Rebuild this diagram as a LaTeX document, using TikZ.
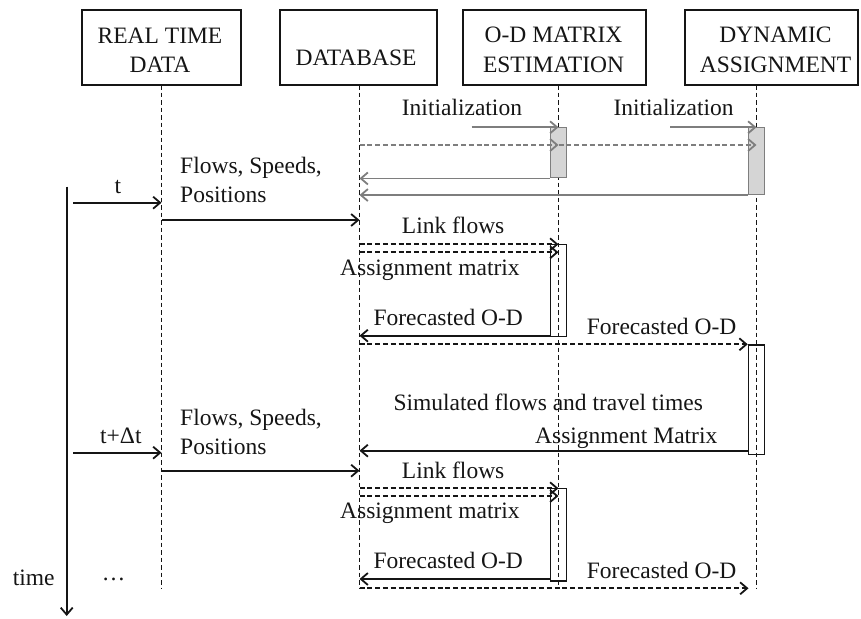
\documentclass[tikz,border=0pt]{standalone}
\usepackage{fontspec}
\setmainfont{Liberation Serif}
\usetikzlibrary{arrows.meta}
\definecolor{ink}{HTML}{151515}
\definecolor{initgray}{HTML}{7E7E7E}
\definecolor{barfill}{HTML}{D5D5D5}
\begin{document}
\begin{tikzpicture}[x=1pt,y=-1pt,
  every node/.style={font=\fontsize{23.5}{29.4}\selectfont, text=ink, inner sep=0pt},
  hdr/.style={draw=ink, line width=1.8pt, rectangle},
  lifeline/.style={draw=ink, line width=1.4pt, dash pattern=on 4.5pt off 3pt},
  msg/.style={draw=ink, line width=1.8pt, -{Straight Barb[length=7pt,width=12pt]}},
  dmsg/.style={msg, dash pattern=on 5pt off 2.8pt},
  gmsg/.style={msg, draw=initgray},
  gdmsg/.style={gmsg, dash pattern=on 5pt off 2.8pt},
  actbar/.style={draw=ink, line width=1.5pt, minimum width=16pt, inner sep=0pt},
  initbar/.style={actbar, draw=initgray, fill=barfill},
]
\useasboundingbox (0,0) rectangle (861,618);

% header boxes
\node[hdr, minimum width=159pt, minimum height=75pt] (rt) at (161.5,47.5) {};
\node[hdr, minimum width=157pt, minimum height=75pt] (db) at (358.5,47.5) {};
\node[hdr, minimum width=183pt, minimum height=75pt] (od) at (554.5,47.5) {};
\node[hdr, minimum width=173pt, minimum height=75pt] (da) at (771.5,47.5) {};
\node[anchor=south, align=center] (rtlbl) at (160,72.7) {REAL TIME\\DATA};
\node[anchor=base] (dblbl) at (356,66) {DATABASE};
\node[anchor=south, align=center] (odlbl) at (553.5,72.7) {O-D MATRIX\\ESTIMATION};
\node[anchor=south, align=center] (dalbl) at (775.5,72.7) {DYNAMIC\\ASSIGNMENT};

% lifelines
\coordinate (rtl) at (161.5,85);
\coordinate (dbl) at (359.5,85);
\coordinate (odl) at (558.5,85);
\coordinate (dal) at (756.5,85);
\coordinate (yend) at (0,588.5);
\draw[lifeline] (rtl) -- (rtl |- yend);
\draw[lifeline] (dbl) -- (dbl |- yend);
\draw[lifeline] (odl) -- (odl |- yend);
\draw[lifeline] (dal) -- (dal |- yend);

% message rows
\coordinate (yi2) at (0,145);
\coordinate (yf1) at (0,220);
\coordinate (yl1) at (0,244.3);
\coordinate (ya1) at (0,252.3);
\coordinate (yr1) at (0,335.7);
\coordinate (ys1) at (0,450.7);
\coordinate (yf2) at (0,470.7);
\coordinate (yl2) at (0,488.3);
\coordinate (ya2) at (0,496);
\coordinate (yr2) at (0,579);
\coordinate (yd2) at (0,588.3);

% activation bars
\node[initbar, minimum height=50.4pt] (odbar0) at (558.5,152.5) {};
\node[initbar, minimum height=67pt] (dabar0) at (756.5,160.8) {};
\node[actbar, minimum height=92.4pt] (odbar1) at (558.5,290.5) {};
\node[actbar, minimum height=109.3pt] (dabar1) at (756.5,399.7) {};
\node[actbar, minimum height=92.7pt] (odbar2) at (558.5,534.7) {};

% initialization
\coordinate (i1s) at (471.7,127.3);
\coordinate (i2s) at (670,127.3);
\draw[gmsg] (i1s) -- (odl |- i1s);
\draw[gmsg] (i2s) -- (dal |- i2s);
\draw[gdmsg] (dbl |- yi2) -- (odl |- yi2);
\draw[gdmsg] (odl |- yi2) -- (dal |- yi2);
\draw[gmsg] (odbar0.south west) -- (dbl |- odbar0.south west);
\draw[gmsg] (dabar0.south west) -- (dbl |- dabar0.south west);
\node[anchor=base west] (init1) at (401.7,115) {Initialization};
\node[anchor=base west] (init2) at (613.3,115) {Initialization};

% time axis
\coordinate (ttop) at (66.7,186.7);
\coordinate (tbot) at (66.7,616);
\draw[msg] (ttop) -- (tbot);
\node[anchor=base west] (timelbl) at (12.7,585) {time};
\node[anchor=base west] (dots) at (101.7,580) {…};

% cycle at t
\coordinate (ts1) at (73,202.7);
\draw[msg] (ts1) -- (rtl |- ts1);
\draw[msg] (rtl |- yf1) -- (dbl |- yf1);
\draw[dmsg] (dbl |- yl1) -- (odl |- yl1);
\draw[dmsg] (dbl |- ya1) -- (odl |- ya1);
\draw[msg] (odbar1.west |- yr1) -- (dbl |- yr1);
\draw[dmsg] (dbl |- dabar1.north west) -- (dabar1.north west);
\draw[msg] (dabar1.west |- ys1) -- (dbl |- ys1);
\node[anchor=base] (tlbl) at (118,193.3) {t};
\node[anchor=south west, align=left] (fsp1) at (180,203.3) {Flows, Speeds,\\Positions};
\node[anchor=base west] (lf1) at (401.7,233.3) {Link flows};
\node[anchor=base west] (am1) at (340,275) {Assignment matrix};
\node[anchor=base west] (fo1) at (373.3,325) {Forecasted O-D};
\node[anchor=base west] (fo2) at (586.7,334.3) {Forecasted O-D};
\node[anchor=base west] (sim) at (393.3,410) {Simulated flows and travel times};
\node[anchor=base west] (amx) at (535,443.3) {Assignment Matrix};

% cycle at t+dt
\coordinate (ts2) at (73,452.7);
\draw[msg] (ts2) -- (rtl |- ts2);
\draw[msg] (rtl |- yf2) -- (dbl |- yf2);
\draw[dmsg] (dbl |- yl2) -- (odl |- yl2);
\draw[dmsg] (dbl |- ya2) -- (odl |- ya2);
\draw[msg] (odbar2.west |- yr2) -- (dbl |- yr2);
\draw[dmsg, shorten >=8pt] (dbl |- yd2) -- (dal |- yd2);
\node[anchor=base west] (tdt) at (100,443.3) {t+Δt};
\node[anchor=south west, align=left] (fsp2) at (180,455) {Flows, Speeds,\\Positions};
\node[anchor=base west] (lf2) at (401.7,478.3) {Link flows};
\node[anchor=base west] (am2) at (340,518.3) {Assignment matrix};
\node[anchor=base west] (fo3) at (373.3,568.3) {Forecasted O-D};
\node[anchor=base west] (fo4) at (586.7,578.3) {Forecasted O-D};
\end{tikzpicture}
\end{document}
